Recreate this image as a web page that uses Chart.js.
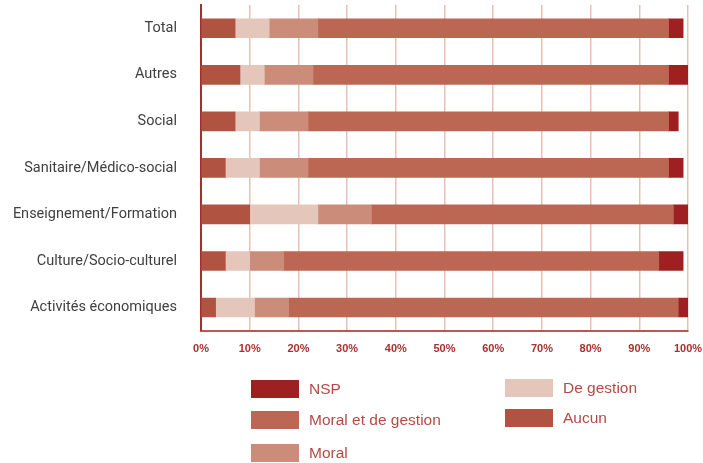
<!DOCTYPE html>
<html>
<head>
<meta charset="utf-8">
<script src="https://cdn.jsdelivr.net/npm/chart.js@4"></script>
<style>
  html, body { margin: 0; padding: 0; background: #ffffff; }
  #wrap { position: relative; width: 703px; height: 463px; }
  canvas { position: absolute; left: 0; top: 0; }
  .lg { position: absolute; font-family: "Liberation Sans", Arial, sans-serif; font-size: 15.5px; white-space: nowrap; }
  .lg span.box { position: absolute; left: 0; top: 0; width: 48px; height: 18px; }
  .lg span.txt { position: absolute; left: 58px; top: 0px; line-height: 18px; color: #B34A45; }
</style>
</head>
<body>
<div id="wrap">
  <canvas id="c" width="703" height="463"></canvas>
  <div id="legend"></div>
</div>
<script>
const categories = ["Total", "Autres", "Social", "Sanitaire/Médico-social", "Enseignement/Formation", "Culture/Socio-culturel", "Activités économiques"];
const seriesNames = ["Aucun", "De gestion", "Moral", "Moral et de gestion", "NSP"];
const aucun          = [7, 8, 7, 5, 10, 5, 3];
const deGestion      = [7, 5, 5, 7, 14, 5, 8];
const moral          = [10, 10, 10, 10, 11, 7, 7];
const moralEtGestion = [72, 73, 74, 74, 62, 77, 80];
const nsp            = [3, 4, 2, 3, 3, 5, 2];
const xTicks = [0, 10, 20, 30, 40, 50, 60, 70, 80, 90, 100];
const colors = ["#B05441", "#E4C6BA", "#CB8C79", "#BB6753", "#9E2021"];
const seriesValues = [aucun, deGestion, moral, moralEtGestion, nsp];

const datasets = seriesNames.map((n, i) => ({
  label: n,
  data: seriesValues[i],
  backgroundColor: colors[i],
  borderWidth: 0,
  barThickness: 19
}));

const chart = new Chart(document.getElementById('c'), {
  type: 'bar',
  data: { labels: categories, datasets },
  options: {
    indexAxis: 'y',
    responsive: false,
    animation: false,
    layout: { padding: { top: 5, right: 15, bottom: 95, left: 0 } },
    plugins: { legend: { display: false }, tooltip: { enabled: false } },
    scales: {
      x: {
        stacked: true,
        min: 0, max: 100,
        afterBuildTicks: s => { s.ticks = xTicks.map(v => ({ value: v })); },
        afterFit: s => { s.paddingLeft = 0; s.paddingRight = 0; },
        ticks: {
          callback: v => v + '%',
          color: '#A8302E',
          font: { family: 'Liberation Sans', size: 11, weight: 'bold' },
          padding: 12,
          maxRotation: 0
        },
        grid: { color: '#E6C2B6', lineWidth: 1.5, drawTicks: false },
        border: { color: '#B45A52', width: 2 }
      },
      y: {
        stacked: true,
        afterFit: s => { s.width = 201; s.paddingTop = 0; s.paddingBottom = 0; },
        ticks: {
          color: '#404040',
          font: { family: 'Roboto', size: 14.5 },
          padding: 24
        },
        grid: { display: false, drawTicks: false },
        border: { color: '#A52E2E', width: 2 }
      }
    }
  }
});

// HTML legend, column-major, reverse order of datasets
const legendPos = [
  { left: 251, top: 380 }, // NSP
  { left: 251, top: 411 }, // Moral et de gestion
  { left: 251, top: 444 }, // Moral
  { left: 505, top: 379 }, // De gestion
  { left: 505, top: 409 }  // Aucun
];
const order = [4, 3, 2, 1, 0];
const lg = document.getElementById('legend');
order.forEach((di, k) => {
  const ds = chart.data.datasets[di];
  const d = document.createElement('div');
  d.className = 'lg';
  d.style.left = legendPos[k].left + 'px';
  d.style.top = legendPos[k].top + 'px';
  d.innerHTML = '<span class="box" style="background:' + ds.backgroundColor + '"></span><span class="txt">' + ds.label + '</span>';
  lg.appendChild(d);
});
</script>
</body>
</html>
